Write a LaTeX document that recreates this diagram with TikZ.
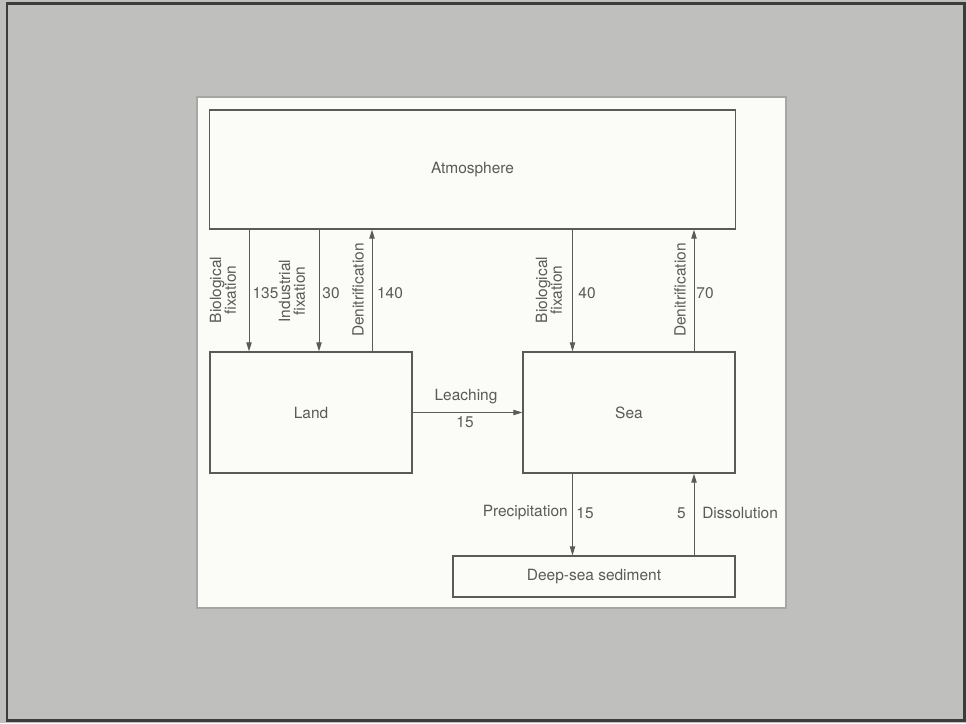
\documentclass[tikz,border=0pt]{standalone}
\usepackage{fontspec}
\setmainfont{TeX Gyre Heros}
\usetikzlibrary{arrows.meta}
\definecolor{pagegrey}{HTML}{BFC0BE}
\definecolor{framegrey}{HTML}{3C3C3C}
\definecolor{inkgrey}{HTML}{5A5A5A}
\definecolor{papercol}{HTML}{FBFBF7}
\tikzset{
    reservoir/.style={
        draw=inkgrey,
        line width=0.8pt,
        text=inkgrey,
        inner sep=0pt
    },
    flux/.style={
        draw=inkgrey,
        line width=0.7pt,
        -{Triangle[length=6.5pt,width=3.8pt]}
    },
    lbl/.style={text=inkgrey, inner sep=0pt},
    vlbl/.style={lbl, rotate=90, align=center}
}
\begin{document}
\begin{tikzpicture}[x=0.025cm, y=-0.025cm, font=\fontsize{11}{10.5}\selectfont]
                \useasboundingbox (0,0) rectangle (966,723);
                \fill[pagegrey] (0,0) rectangle (966,723);
                \draw[framegrey, line width=1.5pt] (7,3.5) rectangle (964.5,720.5);
                \draw[fill=papercol, draw=gray!70, line width=1.2pt] (197,97) rectangle (786,608);
                % reservoirs
                \node[reservoir, minimum width=13.125cm, minimum height=2.975cm] (Atm) at (472.5,169.5) {Atmosphere};
                \node[reservoir, minimum width=5.05cm, minimum height=3.025cm] (Land) at (311,412.5) {Land};
                \node[reservoir, minimum width=5.3cm, minimum height=3.025cm] (Sea) at (629,412.5) {Sea};
                \node[reservoir, minimum width=7.05cm, minimum height=1.025cm] (Sed) at (594,576.5) {Deep-sea sediment};
                % flux columns
                \coordinate (X1) at (249,0);
                \coordinate (X2) at (319,0);
                \coordinate (X3) at (372,0);
                \coordinate (X4) at (572.5,0);
                \coordinate (X5) at (694,0);
                \draw[flux] (Atm.south -| X1) -- (Land.north -| X1);
                \draw[flux] (Atm.south -| X2) -- (Land.north -| X2);
                \draw[flux] (Land.north -| X3) -- (Atm.south -| X3);
                \draw[flux] (Atm.south -| X4) -- (Sea.north -| X4);
                \draw[flux] (Sea.north -| X5) -- (Atm.south -| X5);
                \draw[flux] (Land.east) -- (Sea.west);
                \draw[flux] (Sea.south -| X4) -- (Sed.north -| X4);
                \draw[flux] (Sed.north -| X5) -- (Sea.south -| X5);
                % labels
                \node[vlbl] (BioLand) at (223,290) {Biological\\fixation};
                \node[lbl] (BioLandN) at (265.5,293) {135};
                \node[vlbl] (IndLand) at (292,291) {Industrial\\fixation};
                \node[lbl] (IndLandN) at (331,293) {30};
                \node[vlbl] (DenLand) at (358,290) {Denitrification};
                \node[lbl] (DenLandN) at (390,293) {140};
                \node[vlbl] (BioSea) at (549,290) {Biological\\fixation};
                \node[lbl] (BioSeaN) at (587,293) {40};
                \node[vlbl] (DenSea) at (680,290) {Denitrification};
                \node[lbl] (DenSeaN) at (705,293) {70};
                \node[lbl] (Leach) at (466,397) {Leaching};
                \node[lbl] (LeachN) at (465,422) {15};
                \node[lbl, anchor=east] (Prec) at (568,513) {Precipitation};
                \node[lbl] (PrecN) at (585,513) {15};
                \node[lbl] (DissN) at (681.5,513) {5};
                \node[lbl, anchor=west] (Diss) at (702,513) {Dissolution};
            \end{tikzpicture}
\end{document}
